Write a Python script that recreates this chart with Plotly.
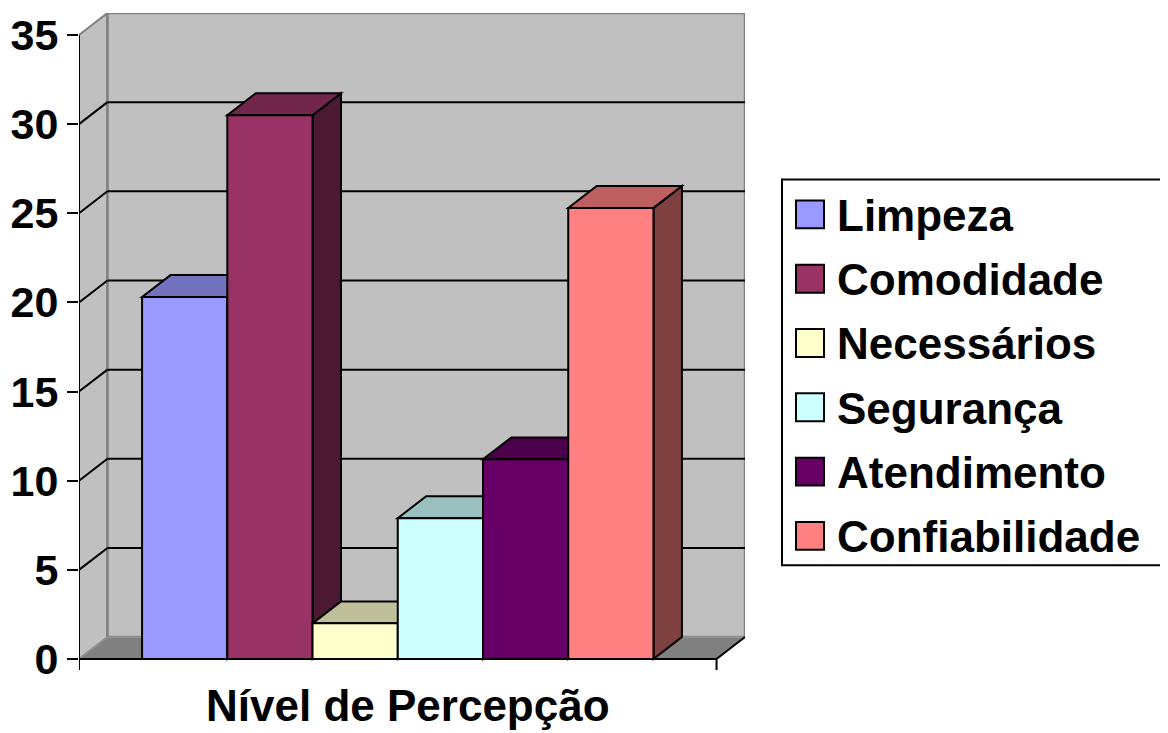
import plotly.graph_objects as go

# ---------------- data ----------------
categories = ["Limpeza", "Comodidade", "Necessários", "Segurança", "Atendimento", "Confiabilidade"]
values = [20.3, 30.5, 2.0, 7.9, 11.2, 25.3]
colors = ["#9999FF", "#993366", "#FFFFCC", "#CCFFFF", "#660066", "#FF8080"]
y_ticks = [0, 5, 10, 15, 20, 25, 30, 35]
x_title = "Nível de Percepção"

# ---------------- geometry / style ----------------
FONT = "Liberation Sans, Arial, sans-serif"
Y_MAX = 35
GAP = 0.74            # space between wall and first/last bar (in bar widths)
DX, DY = 0.334, 1.23  # oblique depth offset (x units, y units)
X0 = -GAP
X1 = len(categories) + GAP
Y_BOTTOM = -0.615
WALL = "#C0C0C0"
WALL_EDGE = "#808080"

OFF = 8  # default page body margin
W, H = 1168 - OFF, 733 - OFF
ML, MT = 79 - OFF, 11 - OFF
MR = 1168 - 745
MB = 733 - 670
PW, PH = W - ML - MR, H - MT - MB


def shade(hex_color, f):
    h = hex_color.lstrip("#")
    r, g, b = (int(h[i:i + 2], 16) for i in (0, 2, 4))
    return "#%02X%02X%02X" % (int(r * f), int(g * f), int(b * f))


def poly(pts):
    return "M " + " L ".join(f"{x},{y}" for x, y in pts) + " Z"


def px(xp):  # reference-image pixel -> paper
    return (xp - OFF - ML) / PW


def py(yp):
    return (H - MB - (yp - OFF)) / PH


shapes = []
# side wall
shapes.append(dict(type="path", xref="x", yref="y", layer="below",
                   path=poly([(X0, 0), (X0, Y_MAX), (X0 + DX, Y_MAX + DY), (X0 + DX, DY)]),
                   fillcolor=WALL, line=dict(color=WALL_EDGE, width=2)))
# back wall
shapes.append(dict(type="rect", xref="x", yref="y", layer="below",
                   x0=X0 + DX, x1=X1 + DX, y0=DY, y1=Y_MAX + DY,
                   fillcolor=WALL, line=dict(color=WALL_EDGE, width=2.5)))
# floor
shapes.append(dict(type="path", xref="x", yref="y", layer="below",
                   path=poly([(X0, 0), (X1, 0), (X1 + DX, DY), (X0 + DX, DY)]),
                   fillcolor="#808080", line=dict(color="#A0A0A0", width=1)))
# gridlines
for t in y_ticks:
    if t == 0 or t == Y_MAX:
        continue
    shapes.append(dict(type="line", xref="x", yref="y", layer="below",
                       x0=X0 + DX, x1=X1 + DX, y0=t + DY, y1=t + DY,
                       line=dict(color="black", width=2)))
    shapes.append(dict(type="line", xref="x", yref="y", layer="below",
                       x0=X0, x1=X0 + DX, y0=t, y1=t + DY,
                       line=dict(color="black", width=2)))
# bar side faces
for i, (v, c) in enumerate(zip(values, colors)):
    r = i + 1
    shapes.append(dict(type="path", xref="x", yref="y", layer="below",
                       path=poly([(r, 0), (r, v), (r + DX, v + DY), (r + DX, DY)]),
                       fillcolor=shade(c, 0.5), line=dict(color="black", width=2)))
# bar top faces
for i, (v, c) in enumerate(zip(values, colors)):
    l, r = i, i + 1
    shapes.append(dict(type="path", xref="x", yref="y", layer="below",
                       path=poly([(l, v), (r, v), (r + DX, v + DY), (l + DX, v + DY)]),
                       fillcolor=shade(c, 0.75), line=dict(color="black", width=2)))
# front floor edge, right diagonal, axis line and category tick
shapes.append(dict(type="line", xref="x", yref="y", x0=X0, x1=X1, y0=0, y1=0,
                   line=dict(color="black", width=2)))
shapes.append(dict(type="line", xref="x", yref="y", x0=X1, x1=X1 + DX, y0=0, y1=DY,
                   line=dict(color="black", width=2)))
shapes.append(dict(type="line", xref="x", yref="y", x0=X0, x1=X0, y0=Y_BOTTOM, y1=Y_MAX,
                   line=dict(color="black", width=2)))
shapes.append(dict(type="line", xref="x", yref="y", x0=X1, x1=X1, y0=Y_BOTTOM, y1=0,
                   line=dict(color="black", width=2)))

fig = go.Figure()
for i, (name, v, c) in enumerate(zip(categories, values, colors)):
    fig.add_trace(go.Bar(x=[i + 0.5], y=[v], width=1, name=name,
                         marker=dict(color=c, line=dict(color="black", width=2)),
                         showlegend=False, hoverinfo="skip"))

# ---------------- manual legend ----------------
shapes.append(dict(type="rect", xref="paper", yref="paper",
                   x0=px(782), x1=px(1164), y0=py(565), y1=py(178),
                   fillcolor="white", line=dict(color="black", width=2)))
annotations = []
for k, (name, c) in enumerate(zip(categories, colors)):
    yc = 213 + k * 64.5
    shapes.append(dict(type="rect", xref="paper", yref="paper",
                       x0=px(796), x1=px(824), y0=py(yc + 14), y1=py(yc - 14),
                       fillcolor=c, line=dict(color="black", width=2)))
    annotations.append(dict(xref="paper", yref="paper", x=px(835), y=py(yc + 1),
                            xanchor="left", yanchor="middle", showarrow=False,
                            text=name, font=dict(family=FONT, size=44, color="black", weight="bold")))

annotations.append(dict(xref="paper", yref="paper", x=px(408), y=py(706),
                        xanchor="center", yanchor="middle", showarrow=False,
                        text=x_title, font=dict(family=FONT, size=44, color="black", weight="bold")))

fig.update_layout(
    width=W, height=H,
    margin=dict(l=ML, r=MR, t=MT, b=MB, pad=0),
    paper_bgcolor="white", plot_bgcolor="white",
    barmode="overlay", bargap=0,
    shapes=shapes, annotations=annotations,
    showlegend=False, hovermode=False,
    xaxis=dict(range=[X0, X1 + DX], showgrid=False, zeroline=False, showticklabels=False,
               ticks="", showline=False, fixedrange=True),
    yaxis=dict(range=[Y_BOTTOM, Y_MAX + DY], tickvals=y_ticks, ticktext=[str(t) for t in y_ticks],
               showgrid=False, zeroline=False, showline=False,
               ticks="outside", ticklen=11, tickwidth=2, tickcolor="black",
               tickfont=dict(family=FONT, size=43, color="black", weight="bold"),
               fixedrange=True),
)

fig.write_html("out.html", config={"displayModeBar": False, "staticPlot": True})
